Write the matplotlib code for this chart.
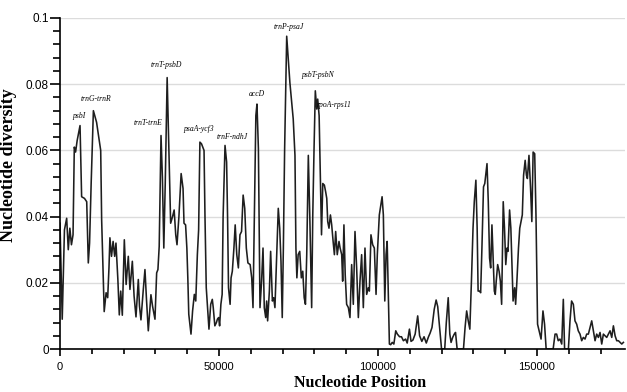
import matplotlib.pyplot as plt
from matplotlib.ticker import MultipleLocator

# sliding-window midpoints (bp) and nucleotide diversity (Pi)
position = [
    0, 700, 1400, 2100, 2600, 3100, 3600, 4100, 4500, 4900,
    5400, 6300, 6800, 7700, 8400, 8900, 9300, 9800, 10500, 11500,
    12800, 13100, 13900, 14500, 15000, 15400, 15700, 16200, 16700, 17200,
    17600, 18200, 18650, 19100, 19600, 20230, 20800, 21480, 22000, 22750,
    23300, 23900, 24630, 25000, 25460, 26200, 26720, 27200, 27770, 28600,
    29100, 29870, 30400, 30800, 31200, 31770, 32200, 32650, 33100, 33700,
    34200, 34800, 35400, 35900, 36400, 36800, 37400, 38100, 38700, 39000,
    39500, 39900, 40200, 40500, 41200, 41700, 42250, 42700, 43200, 43600,
    44000, 44500, 45300, 45600, 46000, 46850, 47400, 47900, 48200, 48700,
    49200, 49500, 49900, 50200, 50600, 51000, 51300, 51900, 52400, 52700,
    53000, 53500, 53800, 54200, 54700, 55100, 55600, 56100, 56600, 57100,
    57600, 58100, 58600, 59100, 59800, 60300, 60700, 61200, 61600, 61950,
    62400, 62900, 63400, 63850, 64250, 64700, 65000, 65300, 65850, 66250,
    66800, 67200, 67600, 68150, 68650, 69100, 69500, 69900, 70250, 70650,
    71300, 72300, 73350, 73900, 74200, 74500, 74900, 75400, 75900, 76350,
    76800, 77200, 77600, 78100, 78600, 79150, 79500, 79900, 80300, 80750,
    81050, 81500, 81900, 82250, 82650, 83150, 83550, 83900, 84200, 84600,
    85050, 85450, 85900, 86300, 86700, 87200, 87750, 88100, 88600, 88900,
    89300, 89700, 90150, 90700, 91200, 91730, 92250, 92780, 93300, 93830,
    94350, 94870, 95400, 95920, 96450, 96970, 97300, 97800, 98340, 98860,
    99400, 99800, 100430, 100900, 101300, 101700, 102150, 102550, 102900, 103300,
    103600, 104000, 104500, 105000, 105600, 106100, 106800, 107400, 108000, 108700,
    109200, 109900, 110400, 111000, 111700, 112500, 113100, 113800, 114500, 115200,
    115900, 116400, 117000, 117700, 118300, 118800, 119200, 119700, 120000, 121000,
    121500, 122100, 122600, 123000, 123500, 124000, 124400, 124900, 126900, 127400,
    127900, 128400, 128900, 129400, 129900, 130300, 130800, 131200, 131500, 132000,
    132300, 132700, 133200, 133600, 133900, 134300, 134700, 135100, 135450, 135850,
    136300, 136600, 136900, 137200, 137650, 138100, 138500, 138900, 139400, 139800,
    140200, 140600, 140900, 141400, 141800, 142200, 142500, 143000, 143300, 143700,
    144200, 144600, 145100, 145400, 145800, 146300, 146700, 147000, 147500, 148000,
    148400, 148800, 149300, 149700, 150200, 150700, 151300, 151900, 152400, 152900,
    155100, 155700, 156200, 156700, 157250, 157800, 158300, 158700, 159900, 160400,
    160900, 161450, 161970, 162500, 163000, 163550, 164080, 164600, 165130, 165650,
    166180, 166700, 167230, 167750, 168280, 168800, 169330, 169850, 170380, 170900,
    171430, 171950, 172480, 173000, 173530, 174050, 174580, 175100, 175630, 176150,
    176680, 177200,
]
pi = [
    .038, .009, .036, .0395, .030, .0365, .0315, .0345, .061, .0595,
    .063, .0675, .046, .0455, .0445, .026, .032, .05, .072, .0685,
    .06, .039, .0113, .017, .0155, .0245, .0336, .028, .0325, .028,
    .032, .021, .0103, .0175, .0102, .033, .0195, .028, .018, .0265,
    .016, .0097, .021, .013, .0088, .018, .024, .015, .0055, .0164,
    .013, .009, .023, .024, .031, .0645, .052, .0305, .05, .082,
    .062, .038, .04, .042, .0345, .0315, .04, .053, .0485, .038,
    .0375, .0305, .0215, .0105, .0045, .0115, .0165, .0145, .0285, .036,
    .0625, .062, .06, .04, .0185, .006, .0135, .015, .0125, .007,
    .008, .009, .0095, .007, .0135, .0165, .04, .0615, .0565, .04,
    .0185, .0135, .0215, .0235, .0305, .0375, .0285, .0245, .0345, .0355,
    .0465, .0425, .0305, .026, .0255, .0215, .0125, .045, .0705, .074,
    .0605, .0125, .0205, .0305, .0125, .0095, .0145, .0085, .0175, .0295,
    .0145, .0155, .0125, .0285, .0425, .0365, .0265, .0095, .0305, .0605,
    .0945, .0805, .0695, .0585, .0305, .0215, .0285, .0295, .0215, .0235,
    .0155, .0135, .0285, .0585, .0385, .0125, .0405, .0605, .078, .0725,
    .0755, .0705, .0505, .0345, .05, .0495, .0475, .0455, .0385, .0365,
    .0405, .0375, .0325, .0285, .0355, .0285, .0325, .0305, .0285, .0205,
    .0375, .0225, .0135, .0125, .0095, .0255, .0135, .0355, .0245, .0095,
    .0205, .0285, .0125, .0305, .0165, .0185, .0175, .0345, .0315, .0305,
    .0165, .0285, .0405, .0435, .046, .0405, .0145, .0285, .0325, .0155,
    .0015, .0013, .002, .0015, .0055, .0045, .0037, .0037, .0025, .003,
    .0018, .006, .0023, .0027, .0045, .010, .004, .0023, .0037, .0018,
    .0037, .0048, .0065, .012, .0148, .0128, .0085, .003, 0, 0,
    .008, .0155, .0045, .002, .0035, .0045, .005, 0, 0, .0065,
    .0115, .0085, .006, .0205, .0365, .0445, .051, .0365, .0175, .0175,
    .017, .0305, .049, .05, .0525, .056, .0445, .0275, .0245, .0375,
    .0255, .0175, .0165, .0205, .0255, .0235, .0205, .0135, .0445, .0365,
    .0255, .0305, .0295, .042, .0365, .0245, .0145, .0185, .0135, .0205,
    .0305, .0365, .039, .0405, .0525, .057, .0525, .0515, .0585, .0485,
    .0385, .0595, .059, .0405, .0075, .0055, .003, .0115, .0075, 0,
    0, .0045, .0045, .0025, .003, .0015, .015, 0, 0, .0085,
    .0145, .0135, .0085, .0075, .0055, .0045, .0025, .0035, .003, .0045,
    .0045, .0065, .0085, .0055, .0025, .0045, .0035, .005, .0015, .0045,
    .004, .0035, .0045, .0055, .0035, .007, .004, .0025, .0025, .002,
    .0015, .002,
]
assert len(position) == len(pi)

# hotspot regions labelled on the plot
hotspots = ["psbI", "trnG-trnR", "trnT-trnE", "trnT-psbD", "psaA-ycf3",
            "trnF-ndhJ", "accD", "trnP-psaJ", "psbT-psbN", "rpoA-rps11"]
hotspot_x = [5900, 11200, 27800, 33550, 43700, 54200, 61860, 71800, 81240, 86100]
hotspot_y = [0.0703, 0.0755, 0.0684, 0.0858, 0.0666, 0.0641, 0.077, 0.0974, 0.0827, 0.0736]

yticks = [0, 0.02, 0.04, 0.06, 0.08, 0.1]
ytick_labels = ["0", "0.02", "0.04", "0.06", "0.08", "0.1"]
xticks = [0, 50000, 100000, 150000]
xtick_labels = ["0", "50000", "100000", "150000"]

fig = plt.figure(figsize=(6.27, 3.92), dpi=100)
ax = fig.add_axes([60 / 627, 1 - 349 / 392, 565 / 627, 331 / 392])

ax.plot(position, pi, color="#1e1e1e", lw=1.15)

ax.set_xlim(0, 177700)
ax.set_ylim(0, 0.1)
ax.set_yticks(yticks)
ax.set_yticklabels(ytick_labels, family=["Liberation Sans"], fontsize=8.5)
ax.set_xticks(xticks)
ax.set_xticklabels(xtick_labels, family=["Liberation Sans Narrow", "Liberation Sans"], fontsize=8)
ax.yaxis.set_minor_locator(MultipleLocator(0.004))
ax.xaxis.set_minor_locator(MultipleLocator(10000))
ax.tick_params(axis="y", which="major", length=7, width=1.2, pad=1)
ax.tick_params(axis="y", which="minor", length=5, width=1.2)
ax.tick_params(axis="x", which="major", length=5, width=1.2, pad=4)
ax.tick_params(axis="x", which="minor", length=3.5, width=1.2)

ax.grid(axis="y", color="#dcdcdc", lw=1)
ax.set_axisbelow(True)
for side in ["top", "right"]:
    ax.spines[side].set_visible(False)
for side in ["left", "bottom"]:
    ax.spines[side].set_linewidth(1.2)

for name, hx, hy in zip(hotspots, hotspot_x, hotspot_y):
    ax.text(hx, hy, name, family=["Liberation Serif"], style="italic",
            fontsize=5.5, ha="center", va="center")

ax.set_ylabel("Nucleotide diversity", family=["Liberation Serif"], fontweight="bold", fontsize=13)
ax.set_xlabel("Nucleotide Position", family=["Liberation Serif"], fontweight="bold", fontsize=11.5)
ax.yaxis.set_label_coords(-0.076, 0.556)
ax.xaxis.set_label_coords(0.531, -0.08)

fig.savefig("out.png", dpi=100)
